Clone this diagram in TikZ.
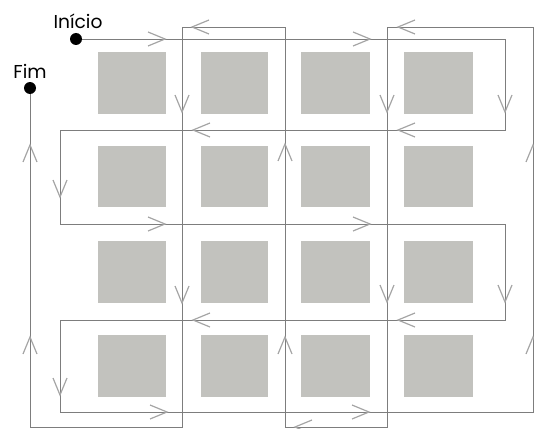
\documentclass[tikz,border=0pt]{standalone}
\usepackage{fontspec}
\newfontfamily\rotulo{Poppins}
\usepackage{tikz}
\definecolor{caixa}{RGB}{194,194,190}
\definecolor{linha}{RGB}{125,125,125}
\definecolor{ponta}{RGB}{165,165,165}
\newcommand{\seta}[3]{\draw[ponta, line width=0.9pt, shift={(#1,#2)}, rotate=#3] (-17,7) -- (0,0) -- (-17,-7);}

\begin{document}
\begin{tikzpicture}[x=0.75pt,y=-0.75pt]
\useasboundingbox (0,0) rectangle (534,428);
\fill[caixa] (98,52) rectangle (166,114);
\fill[caixa] (201,52) rectangle (268,114);
\fill[caixa] (301,52) rectangle (370,114);
\fill[caixa] (404,52) rectangle (473,114);
\fill[caixa] (98,146) rectangle (166,207);
\fill[caixa] (201,146) rectangle (268,207);
\fill[caixa] (301,146) rectangle (370,207);
\fill[caixa] (404,146) rectangle (473,207);
\fill[caixa] (98,241) rectangle (166,303);
\fill[caixa] (201,241) rectangle (268,303);
\fill[caixa] (301,241) rectangle (370,303);
\fill[caixa] (404,241) rectangle (473,303);
\fill[caixa] (98,335) rectangle (166,397);
\fill[caixa] (201,335) rectangle (268,397);
\fill[caixa] (301,335) rectangle (370,397);
\fill[caixa] (404,335) rectangle (473,397);
\draw[linha, line width=0.7pt] (76,39) -- (505,39) -- (505,130) -- (60,130) -- (60,224) -- (505,224) -- (505,320) -- (60,320) -- (60,412) -- (533,412) -- (533,27) -- (387,27) -- (387,427) -- (285,427) -- (285,27) -- (182,27) -- (182,427) -- (30,427) -- (30,88);
\node[circle, fill=black, inner sep=0pt, minimum size=9pt] (inicio) at (76,39) {};
\node[circle, fill=black, inner sep=0pt, minimum size=9pt] (fim) at (30,88) {};
\node[font=\rotulo\fontsize{14}{16}\selectfont, anchor=base] at (78,29) {Início};
\node[font=\rotulo\fontsize{14}{16}\selectfont, anchor=base] at (30,78) {Fim};
\seta{165}{39}{0}
\seta{370}{39}{0}
\seta{505}{112}{270}
\seta{193}{130}{180}
\seta{398}{130}{180}
\seta{60}{197}{270}
\seta{165}{224}{0}
\seta{370}{224}{0}
\seta{505}{302}{270}
\seta{193}{320}{180}
\seta{398}{320}{180}
\seta{60}{395}{270}
\seta{167}{412}{0}
\seta{369}{412}{0}
\seta{533}{145}{90}
\seta{533}{337}{90}
\seta{192}{27}{180}
\seta{398}{27}{180}
\seta{387}{112}{270}
\seta{387}{302}{270}
\seta{295}{427}{180}
\seta{285}{144}{90}
\seta{285}{337}{90}
\seta{182}{112}{270}
\seta{182}{303}{270}
\seta{30}{145}{90}
\seta{30}{337}{90}
\end{tikzpicture}
\end{document}
